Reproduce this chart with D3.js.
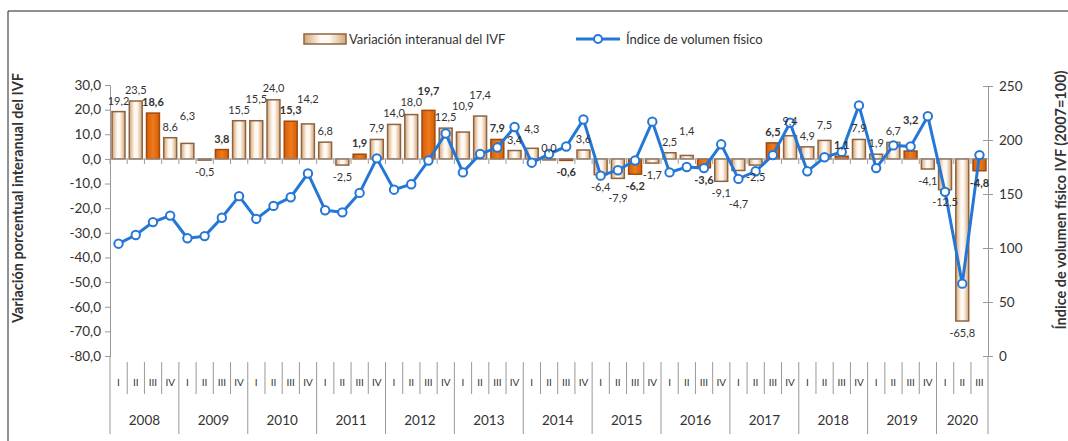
<!DOCTYPE html>
<html>
<head>
<meta charset="utf-8">
<script src="https://cdn.jsdelivr.net/npm/d3@7"></script>
<style>
  body { margin: 0; background: #fff; }
  svg text { font-family: Lato, "Open Sans", sans-serif; fill: #333; }
</style>
</head>
<body>
<svg id="chart" width="1068" height="441"></svg>
<script>
// Quarterly data 2008-I .. 2020-III
const years = ["2008","2009","2010","2011","2012","2013","2014","2015","2016","2017","2018","2019","2020"]
const quarters = ["I","II","III","IV"]

// Variación interanual del IVF (%)
const variation = [
  19.2, 23.5, 18.6, 8.6,
  6.3, -0.5, 3.8, 15.5,
  15.5, 24.0, 15.3, 14.2,
  6.8, -2.5, 1.9, 7.9,
  14.0, 18.0, 19.7, 12.5,
  10.9, 17.4, 7.9, 3.4,
  4.3, 0.0, -0.6, 3.6,
  -6.4, -7.9, -6.2, -1.7,
  2.5, 1.4, -3.6, -9.1,
  -4.7, -2.5, 6.5, 9.4,
  4.9, 7.5, 1.1, 7.9,
  1.9, 6.7, 3.2, -4.1,
  -12.5, -65.8, -4.8
]

// Índice de volumen físico (2007=100)
const ivf = [
  104, 112, 124, 130,
  109, 111, 128, 148,
  127, 139, 147, 169,
  135, 133, 151, 183,
  154, 159, 181, 206,
  170, 187, 193, 212,
  179, 187, 194, 219,
  167, 172, 181, 217,
  170, 175, 174, 196,
  164, 171, 186, 216,
  171, 184, 189, 232,
  174, 195, 194, 222,
  152, 67, 186
]

const leftTicks = [30, 20, 10, 0, -10, -20, -30, -40, -50, -60, -70, -80]
const rightTicks = [0, 50, 100, 150, 200, 250]

// Build one record per quarter
const data = variation.map((v, i) => ({
  i: i,
  year: years[Math.floor(i / 4)],
  q: quarters[i % 4],
  v: v,
  ivf: ivf[i]
}))

const svg = d3.select("#chart")
const fmt = v => d3.format(".1f")(v).replace(".", ",").replace("−", "-")

const x = d3.scaleBand().domain(data.map(d => d.i)).range([110, 988]).paddingInner(0.25).paddingOuter(0.12)
const yL = d3.scaleLinear().domain([-80, 30]).range([356, 85])
const yR = d3.scaleLinear().domain([0, 250]).range([356, 86])
const step = x.step()
const x0 = 110, x1 = 988
const cx = d => x(d.i) + x.bandwidth() / 2

// Frame
svg.append("path").attr("d", "M8,445 L8,11 L1075,11").attr("fill", "none").attr("stroke", "#222").attr("stroke-width", 1)

// Gradients for bars
const defs = svg.append("defs")
const gCream = defs.append("linearGradient").attr("id", "cream")
gCream.append("stop").attr("offset", "0%").attr("stop-color", "#D4A678")
gCream.append("stop").attr("offset", "40%").attr("stop-color", "#FFF9F2")
gCream.append("stop").attr("offset", "60%").attr("stop-color", "#FFF9F2")
gCream.append("stop").attr("offset", "100%").attr("stop-color", "#D4A678")
const gOrange = defs.append("linearGradient").attr("id", "orange")
gOrange.append("stop").attr("offset", "0%").attr("stop-color", "#D35F06")
gOrange.append("stop").attr("offset", "50%").attr("stop-color", "#F07A1C")
gOrange.append("stop").attr("offset", "100%").attr("stop-color", "#D35F06")

// Left axis
const leftAxis = d3.axisLeft(yL).tickValues(leftTicks).tickSize(5).tickFormat(fmt)
const la = svg.append("g").attr("transform", `translate(${x0},0)`).call(leftAxis)
la.select(".domain").attr("stroke", "#999")
la.selectAll(".tick line").attr("stroke", "#999")
la.selectAll(".tick text").attr("font-size", 13.5).attr("x", -9)

// Right axis
const rightAxis = d3.axisRight(yR).tickValues(rightTicks).tickSize(5)
const ra = svg.append("g").attr("transform", `translate(${x1},0)`).call(rightAxis)
ra.select(".domain").attr("stroke", "#999")
ra.selectAll(".tick line").attr("stroke", "#999").attr("x1", -5)
ra.selectAll(".tick text").attr("font-size", 13.5).attr("x", 11)

// Axis lines continuing down through the category labels
svg.append("line").attr("x1", x0).attr("x2", x0).attr("y1", 356).attr("y2", 434).attr("stroke", "#999")
svg.append("line").attr("x1", x1).attr("x2", x1).attr("y1", 356).attr("y2", 434).attr("stroke", "#999")

// Bars
svg.append("g").selectAll("rect")
  .data(data)
  .enter()
  .append("rect")
  .attr("x", d => x(d.i))
  .attr("width", x.bandwidth())
  .attr("y", d => yL(Math.max(0, d.v)))
  .attr("height", d => Math.max(1, Math.abs(yL(d.v) - yL(0))))
  .attr("fill", d => d.q == "III" ? "url(#orange)" : "url(#cream)")
  .attr("stroke", d => d.q == "III" ? "#A04A0E" : "#8E6440")
  .attr("stroke-width", 1.5)

// Zero line with small ticks at band boundaries
svg.append("line").attr("x1", x0).attr("x2", x1).attr("y1", yL(0)).attr("y2", yL(0)).attr("stroke", "#999")
svg.append("g").selectAll("line")
  .data(data)
  .enter()
  .append("line")
  .attr("x1", d => x0 + d.i * step)
  .attr("x2", d => x0 + d.i * step)
  .attr("y1", yL(0))
  .attr("y2", yL(0) + 5)
  .attr("stroke", "#999")

// IVF line
const line = d3.line().x(cx).y(d => yR(d.ivf))
svg.append("path").datum(data).attr("d", line).attr("fill", "none").attr("stroke", "#2477D6").attr("stroke-width", 3)
svg.append("g").selectAll("circle")
  .data(data)
  .enter()
  .append("circle")
  .attr("cx", cx)
  .attr("cy", d => yR(d.ivf))
  .attr("r", 4.2)
  .attr("fill", "#fff")
  .attr("stroke", "#2477D6")
  .attr("stroke-width", 2)

// Bar labels: outside end, pushed away from the previous label when they collide
const labelH = 11
data.forEach((d, k) => {
  d.ly = d.v >= 0 ? yL(d.v) - 7 : yL(d.v) + 16
  const prev = data[k - 1]
  if (prev && (prev.v >= 0) == (d.v >= 0) && Math.abs(prev.ly - d.ly) < labelH) {
    d.ly = d.v >= 0 ? Math.min(d.ly, prev.ly - labelH) : Math.max(d.ly, prev.ly + labelH)
    if (d.v >= 0 && d.ly < yL(d.v) - 30) d.ly = prev.ly + labelH
    if (d.v < 0 && d.ly > yL(d.v) + 40) d.ly = prev.ly - labelH
  }
})
svg.append("g").selectAll("text")
  .data(data)
  .enter()
  .append("text")
  .attr("x", cx)
  .attr("y", d => d.ly)
  .attr("text-anchor", "middle")
  .attr("font-size", 11)
  .attr("font-weight", d => d.q == "III" ? "bold" : "normal")
  .text(d => fmt(d.v))

// Category axis: quarter labels, separators and years
const cat = svg.append("g")
cat.selectAll(".qsep")
  .data(data.filter(d => d.i % 4 != 0))
  .enter()
  .append("line")
  .attr("x1", d => x0 + d.i * step)
  .attr("x2", d => x0 + d.i * step)
  .attr("y1", 362)
  .attr("y2", 394)
  .attr("stroke", "#999")
cat.selectAll(".ysep")
  .data(years.slice(1))
  .enter()
  .append("line")
  .attr("x1", (d, k) => x0 + (k + 1) * 4 * step)
  .attr("x2", (d, k) => x0 + (k + 1) * 4 * step)
  .attr("y1", 362)
  .attr("y2", 434)
  .attr("stroke", "#999")
cat.selectAll(".qlab")
  .data(data)
  .enter()
  .append("text")
  .attr("x", cx)
  .attr("y", 386)
  .attr("text-anchor", "middle")
  .attr("font-size", 10)
  .text(d => d.q)
cat.selectAll(".ylab")
  .data(years)
  .enter()
  .append("text")
  .attr("x", (d, k) => x0 + Math.min(k * 4 + 2, (data.length + k * 4) / 2) * step)
  .attr("y", 425)
  .attr("text-anchor", "middle")
  .attr("font-size", 13.5)
  .text(d => d)

// Axis titles
svg.append("text")
  .attr("transform", "translate(23,198) rotate(-90)")
  .attr("text-anchor", "middle")
  .attr("font-size", 14.5)
  .attr("font-weight", "bold")
  .text("Variación porcentual interanual del IVF")
svg.append("text")
  .attr("transform", "translate(1066,200) rotate(-90)")
  .attr("text-anchor", "middle")
  .attr("font-size", 14.5)
  .attr("font-weight", "bold")
  .text("Índice de volumen físico IVF (2007=100)")

// Legend
const leg = svg.append("g")
leg.append("rect").attr("x", 304).attr("y", 34).attr("width", 42).attr("height", 10)
  .attr("fill", "url(#cream)").attr("stroke", "#8E6440").attr("stroke-width", 1.5)
leg.append("text").attr("x", 349).attr("y", 44).attr("font-size", 13).text("Variación interanual del IVF")
leg.append("line").attr("x1", 576).attr("x2", 620).attr("y1", 39).attr("y2", 39).attr("stroke", "#2477D6").attr("stroke-width", 3)
leg.append("circle").attr("cx", 598).attr("cy", 39).attr("r", 4).attr("fill", "#fff").attr("stroke", "#2477D6").attr("stroke-width", 2)
leg.append("text").attr("x", 626).attr("y", 44).attr("font-size", 13).text("Índice de volumen físico")
</script>
</body>
</html>
